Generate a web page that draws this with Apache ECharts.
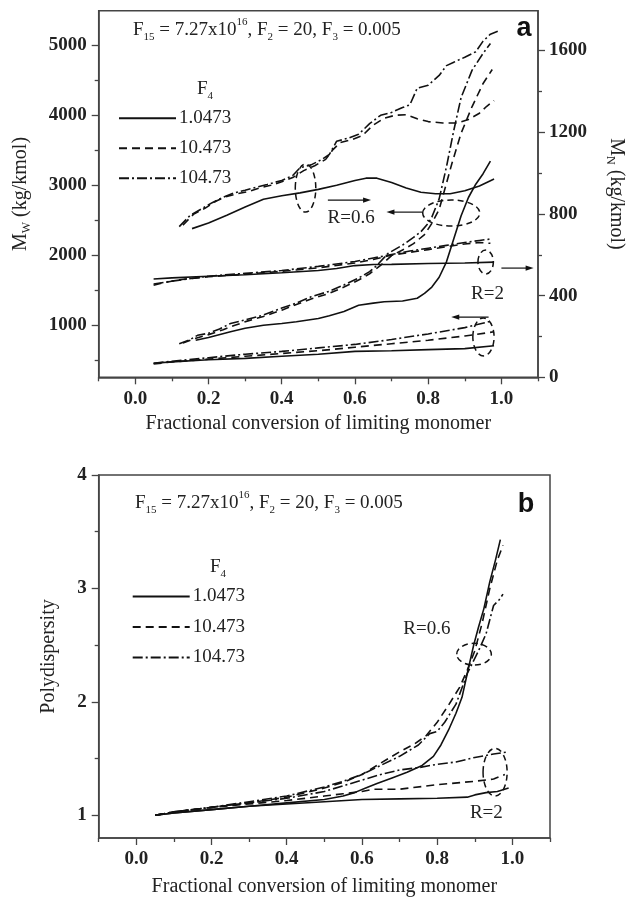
<!DOCTYPE html>
<html><head><meta charset="utf-8">
<script src="https://cdn.jsdelivr.net/npm/echarts@6/dist/echarts.min.js"></script>
<style>html,body{margin:0;padding:0;background:#fff}#c{width:634px;height:898px}</style>
</head><body><div id="c"></div>
<script>
// ---------- legend / tick data ----------
const legendNames = ['1.0473', '10.473', '104.73'];
const xMajor = [0, 0.2, 0.4, 0.6, 0.8, 1.0];
const xMinor = [-0.1, 0.1, 0.3, 0.5, 0.7, 0.9, 1.1];
const mwMajor = [1000, 2000, 3000, 4000, 5000];
const mwMinor = [500, 1500, 2500, 3500, 4500];
const mnMajor = [0, 400, 800, 1200, 1600];
const mnMinor = [200, 600, 1000, 1400];
const pdMajor = [1, 2, 3, 4];
const pdMinor = [1.5, 2.5, 3.5];

// ---------- panel a : R = 0.6, Mn (right axis) ----------
const mnR06SolidX = [0.155,0.2,0.25,0.3,0.35,0.4,0.45,0.5,0.55,0.6,0.63,0.66,0.7,0.74,0.78,0.82,0.86,0.9,0.94,0.98];
const mnR06SolidY = [728,755,793,834,872,889,903,920,940,964,975,975,954,927,906,899,899,913,937,971];
const mnR06DashX = [0.13,0.16,0.19,0.22,0.25,0.28,0.31,0.34,0.37,0.40,0.43,0.46,0.49,0.52,0.54,0.56,0.59,0.62,0.65,0.68,0.71,0.74,0.77,0.80,0.84,0.88,0.91,0.94,0.96,0.98];
const mnR06DashY = [745,800,827,862,886,899,910,927,940,957,978,1012,1036,1067,1115,1149,1163,1183,1235,1269,1283,1286,1266,1252,1245,1245,1262,1293,1327,1355];
const mnR06DotX = [0.12,0.15,0.18,0.21,0.24,0.27,0.30,0.33,0.36,0.40,0.43,0.45,0.48,0.51,0.53,0.55,0.58,0.61,0.64,0.67,0.70,0.73,0.75,0.77,0.80,0.83,0.85,0.87,0.90,0.93,0.95,0.97,0.99];
const mnR06DotY = [738,793,824,855,882,903,916,930,944,964,988,1026,1040,1067,1091,1156,1170,1190,1242,1283,1297,1321,1334,1416,1430,1478,1526,1543,1567,1594,1646,1680,1694];

// ---------- panel a : R = 0.6, Mw (left axis) ----------
const mwR06SolidX = [0.165,0.2,0.26,0.3,0.35,0.4,0.44,0.5,0.53,0.57,0.61,0.65,0.68,0.73,0.77,0.79,0.81,0.83,0.85,0.87,0.89,0.91,0.93,0.95,0.97];
const mwR06SolidY = [780,820,900,950,995,1020,1045,1090,1130,1190,1280,1310,1330,1340,1380,1450,1540,1680,1900,2230,2560,2820,3010,3160,3340];
const mwR06DashX = [0.13,0.16,0.2,0.24,0.27,0.31,0.35,0.4,0.44,0.48,0.53,0.57,0.61,0.64,0.67,0.7,0.73,0.76,0.79,0.81,0.83,0.845,0.865,0.89,0.92,0.95,0.975];
const mwR06DashY = [740,800,860,930,990,1060,1120,1210,1290,1370,1450,1540,1640,1730,1850,1990,2070,2160,2290,2450,2650,2930,3310,3740,4120,4450,4650];
const mwR06DotX = [0.12,0.15,0.17,0.2,0.23,0.26,0.3,0.35,0.4,0.44,0.48,0.53,0.57,0.61,0.64,0.66,0.69,0.73,0.76,0.78,0.8,0.81,0.83,0.85,0.87,0.89,0.92,0.95,0.97];
const mwR06DotY = [730,790,850,880,940,1020,1070,1140,1240,1310,1400,1480,1570,1670,1760,1850,2020,2140,2250,2330,2450,2540,2800,3260,3780,4250,4640,4880,5020];

// ---------- panel a : R = 2, Mn (right axis) ----------
const mnR2SolidX = [0.05,0.1,0.2,0.3,0.4,0.5,0.55,0.6,0.65,0.7,0.8,0.9,0.98];
const mnR2SolidY = [481,487,495,502,512,523,533,547,552,553,557,560,564];
const mnR2DashX = [0.05,0.08,0.12,0.2,0.3,0.4,0.5,0.6,0.65,0.7,0.75,0.8,0.85,0.9,0.94,0.97];
const mnR2DashY = [451,464,478,492,505,519,536,560,577,598,612,625,639,653,660,656];
const mnR2DotX = [0.05,0.1,0.2,0.3,0.4,0.5,0.6,0.65,0.7,0.75,0.8,0.85,0.9,0.94,0.97];
const mnR2DotY = [457,471,495,509,523,543,567,584,601,618,632,646,660,670,677];

// ---------- panel a : R = 2, Mw (left axis) ----------
const mwR2SolidX = [0.05,0.1,0.2,0.3,0.4,0.5,0.6,0.7,0.8,0.9,0.98];
const mwR2SolidY = [450,470,500,520,550,580,620,630,645,660,700];
const mwR2DashX = [0.05,0.1,0.2,0.3,0.4,0.5,0.6,0.7,0.8,0.9,0.98];
const mwR2DashY = [440,470,510,550,590,630,680,730,780,840,900];
const mwR2DotX = [0.05,0.1,0.2,0.3,0.4,0.5,0.6,0.7,0.8,0.9,0.97];
const mwR2DotY = [450,480,530,580,620,670,720,790,870,960,1050];

// ---------- panel b : polydispersity ----------
const pdR2SolidX = [0.05,0.1,0.2,0.3,0.4,0.5,0.6,0.7,0.8,0.88,0.9,0.93,0.96,0.99];
const pdR2SolidY = [1.0,1.02,1.05,1.08,1.10,1.12,1.14,1.145,1.15,1.16,1.18,1.20,1.21,1.24];
const pdR2DashX = [0.05,0.1,0.2,0.3,0.4,0.5,0.55,0.6,0.63,0.7,0.8,0.9,0.95,0.98];
const pdR2DashY = [1.0,1.03,1.07,1.10,1.13,1.17,1.19,1.21,1.23,1.23,1.27,1.30,1.32,1.36];
const pdR2DotX = [0.05,0.1,0.2,0.3,0.4,0.5,0.55,0.6,0.65,0.7,0.75,0.8,0.85,0.9,0.95,0.99];
const pdR2DotY = [1.0,1.03,1.07,1.11,1.15,1.21,1.26,1.31,1.36,1.40,1.42,1.45,1.47,1.51,1.54,1.56];
const pdR06SolidX = [0.05,0.1,0.2,0.3,0.4,0.5,0.55,0.58,0.61,0.64,0.68,0.72,0.76,0.79,0.81,0.83,0.85,0.866,0.88,0.897,0.91,0.924,0.94,0.955,0.968];
const pdR06SolidY = [1.0,1.02,1.05,1.08,1.11,1.14,1.17,1.20,1.24,1.28,1.33,1.38,1.44,1.52,1.62,1.75,1.90,2.04,2.25,2.50,2.66,2.82,3.06,3.25,3.43];
const pdR06DashX = [0.05,0.1,0.2,0.3,0.4,0.5,0.55,0.6,0.65,0.7,0.74,0.77,0.8,0.83,0.86,0.88,0.9,0.92,0.94,0.96,0.975];
const pdR06DashY = [1.0,1.03,1.07,1.11,1.16,1.24,1.29,1.36,1.46,1.56,1.63,1.70,1.82,1.97,2.13,2.28,2.45,2.70,3.0,3.25,3.38];
const pdR06DotX = [0.05,0.1,0.2,0.3,0.4,0.5,0.55,0.6,0.65,0.7,0.75,0.78,0.8,0.82,0.85,0.88,0.91,0.93,0.95,0.965,0.975];
const pdR06DotY = [1.0,1.03,1.07,1.12,1.17,1.25,1.30,1.36,1.44,1.52,1.62,1.72,1.74,1.82,1.98,2.25,2.45,2.60,2.85,2.90,2.95];

// ---------- styling ----------
const SERIF = 'Liberation Serif';
const INK = '#111';
const AX = '#444';
const dashTypes = ['solid', [8, 5], [10, 3, 2, 3]];
const pairs = (xs, ys) => xs.map((x, i) => [x, ys[i]]);

function mkSeries(idx, xs, ys, xi, yi) {
  return {
    type: 'line', name: legendNames[idx], xAxisIndex: xi, yAxisIndex: yi,
    data: pairs(xs, ys), symbol: 'none', smooth: false, clip: true,
    lineStyle: { color: INK, width: 1.6, type: dashTypes[idx] },
    itemStyle: { color: INK }, emphasis: { disabled: true }, animation: false
  };
}

const series = [
  mkSeries(0, mnR06SolidX, mnR06SolidY, 0, 2),
  mkSeries(1, mnR06DashX, mnR06DashY, 0, 2),
  mkSeries(2, mnR06DotX, mnR06DotY, 0, 2),
  mkSeries(0, mwR06SolidX, mwR06SolidY, 0, 0),
  mkSeries(1, mwR06DashX, mwR06DashY, 0, 0),
  mkSeries(2, mwR06DotX, mwR06DotY, 0, 0),
  mkSeries(0, mnR2SolidX, mnR2SolidY, 0, 2),
  mkSeries(1, mnR2DashX, mnR2DashY, 0, 2),
  mkSeries(2, mnR2DotX, mnR2DotY, 0, 2),
  mkSeries(0, mwR2SolidX, mwR2SolidY, 0, 0),
  mkSeries(1, mwR2DashX, mwR2DashY, 0, 0),
  mkSeries(2, mwR2DotX, mwR2DotY, 0, 0),
  mkSeries(0, pdR06SolidX, pdR06SolidY, 2, 4),
  mkSeries(1, pdR06DashX, pdR06DashY, 2, 4),
  mkSeries(2, pdR06DotX, pdR06DotY, 2, 4),
  mkSeries(0, pdR2SolidX, pdR2SolidY, 2, 4),
  mkSeries(1, pdR2DashX, pdR2DashY, 2, 4),
  mkSeries(2, pdR2DotX, pdR2DotY, 2, 4)
];

const tickFont = { fontFamily: SERIF, fontWeight: 'bold', fontSize: 19, color: '#222' };
const nameFont = { fontFamily: SERIF, fontSize: 20, color: '#222' };
const plain = v => String(v);

function xAxes(grid, gap) {
  return [{
    gridIndex: grid, type: 'value', position: 'bottom', min: -0.1, max: 1.1,
    axisLine: { onZero: false, lineStyle: { color: AX, width: 1.5 } },
    axisTick: { customValues: xMajor, length: 7, lineStyle: { color: AX, width: 1.3 } },
    axisLabel: { customValues: xMajor, formatter: v => v.toFixed(1), margin: 12, ...tickFont },
    splitLine: { show: false },
    name: 'Fractional conversion of limiting monomer', nameLocation: 'middle', nameGap: gap,
    nameTextStyle: nameFont
  }, {
    gridIndex: grid, type: 'value', position: 'bottom', min: -0.1, max: 1.1,
    axisLine: { show: false, onZero: false },
    axisTick: { customValues: xMinor, length: 4, lineStyle: { color: AX, width: 1.3 } },
    axisLabel: { show: false }, splitLine: { show: false }
  }];
}

const subRich = {
  m: { fontFamily: SERIF, fontSize: 20, color: '#222', lineHeight: 24, verticalAlign: 'middle' },
  s: { fontFamily: SERIF, fontSize: 12, color: '#222', lineHeight: 12, verticalAlign: 'bottom' }
};

const option = {
  backgroundColor: '#fff',
  animation: false,
  grid: [
    { left: 98.7, right: 84, top: 10.7, height: 366.6, show: true, borderColor: AX, borderWidth: 1.5, backgroundColor: 'transparent' },
    { left: 98.7, right: 84, top: 475, height: 368, show: true, borderColor: AX, borderWidth: 1.5, backgroundColor: 'transparent' }
  ],
  xAxis: [...xAxes(0, 36), ...xAxes(1, 39)],
  yAxis: [
    { gridIndex: 0, type: 'value', position: 'left', min: 250, max: 5490,
      axisLine: { show: true, onZero: false, lineStyle: { color: AX, width: 1.5 } },
      axisTick: { customValues: mwMajor, length: 7, lineStyle: { color: AX, width: 1.3 } },
      axisLabel: { customValues: mwMajor, formatter: plain, margin: 12, ...tickFont }, splitLine: { show: false },
      name: '{m|M}{s|W}{m| (kg/kmol)}', nameLocation: 'middle', nameGap: 66,
      nameTextStyle: { ...nameFont, rich: subRich } },
    { gridIndex: 0, type: 'value', position: 'left', min: 250, max: 5490,
      axisLine: { show: false, onZero: false },
      axisTick: { customValues: mwMinor, length: 4, lineStyle: { color: AX, width: 1.3 } },
      axisLabel: { show: false }, splitLine: { show: false } },
    { gridIndex: 0, type: 'value', position: 'right', min: 0, max: 1795,
      axisLine: { show: true, onZero: false, lineStyle: { color: AX, width: 1.5 } },
      axisTick: { customValues: mnMajor, length: 7, lineStyle: { color: AX, width: 1.3 } },
      axisLabel: { customValues: mnMajor, formatter: plain, margin: 11, ...tickFont }, splitLine: { show: false },
      name: '{m|M}{s|N}{m| (kg/kmol)}', nameLocation: 'middle', nameGap: 66, nameRotate: -90,
      nameTextStyle: { ...nameFont, rich: subRich } },
    { gridIndex: 0, type: 'value', position: 'right', min: 0, max: 1795,
      axisLine: { show: false, onZero: false },
      axisTick: { customValues: mnMinor, length: 4, lineStyle: { color: AX, width: 1.3 } },
      axisLabel: { show: false }, splitLine: { show: false } },
    { gridIndex: 1, type: 'value', position: 'left', min: 0.8, max: 4,
      axisLine: { show: true, onZero: false, lineStyle: { color: AX, width: 1.5 } },
      axisTick: { customValues: pdMajor, length: 7, lineStyle: { color: AX, width: 1.3 } },
      axisLabel: { customValues: pdMajor, formatter: plain, margin: 12, ...tickFont }, splitLine: { show: false },
      name: 'Polydispersity', nameLocation: 'middle', nameGap: 40, nameTextStyle: nameFont },
    { gridIndex: 1, type: 'value', position: 'left', min: 0.8, max: 4,
      axisLine: { show: false, onZero: false },
      axisTick: { customValues: pdMinor, length: 4, lineStyle: { color: AX, width: 1.3 } },
      axisLabel: { show: false }, splitLine: { show: false } }
  ],
  legend: [
    { data: legendNames, orient: 'vertical', left: 118, top: 108.7, padding: 0,
      itemWidth: 57, itemHeight: 14, itemGap: 11, selectedMode: false,
      itemStyle: { opacity: 0 }, textStyle: { fontFamily: SERIF, fontSize: 19, color: '#222', padding: [0,0,0,-2] } },
    { data: legendNames, orient: 'vertical', left: 131.7, top: 587, padding: 0,
      itemWidth: 57, itemHeight: 14, itemGap: 11.5, selectedMode: false,
      itemStyle: { opacity: 0 }, textStyle: { fontFamily: SERIF, fontSize: 19, color: '#222', padding: [0,0,0,-2] } }
  ],
  series: series
};

const chart = echarts.init(document.getElementById('c'), null, { renderer: 'canvas' });
chart.setOption(option);

// ---------- annotations (positions given in data coordinates) ----------
const annTexts = [
  [0, 0.525, 2526, 'R=0.6'],
  [0, 0.917, 1440, 'R=2'],
  [1, 0.71, 2.64, 'R=0.6'],
  [1, 0.887, 1.02, 'R=2']
];
const annArrows = [ // panel, x0, y0, x1, y1 (head at x1,y1)
  [0, 0.526, 2783, 0.644, 2783],
  [0, 0.785, 2611, 0.686, 2611],
  [0, 1.0, 1811, 1.088, 1811],
  [0, 0.965, 1111, 0.863, 1111]
];
const annEllipses = [ // panel, cx, cy, rx(data), ry(data)
  [0, 0.465, 2954, 0.028, 343],
  [0, 0.863, 2598, 0.078, 186],
  [0, 0.957, 1897, 0.021, 171],
  [0, 0.951, 827, 0.029, 271],
  [1, 0.898, 2.42, 0.046, 0.096],
  [1, 0.954, 1.38, 0.032, 0.21]
];
function px(panel, x, y) {
  return chart.convertToPixel(panel === 0 ? { xAxisIndex: 0, yAxisIndex: 0 } : { xAxisIndex: 2, yAxisIndex: 4 }, [x, y]);
}
const g = [];
annTexts.forEach(([p, x, y, t]) => {
  const q = px(p, x, y);
  g.push({ type: 'text', x: q[0], y: q[1], silent: true,
    style: { text: t, fill: '#222', font: '19px "Liberation Serif"', verticalAlign: 'middle', align: 'left' } });
});
annArrows.forEach(([p, x0, y0, x1, y1]) => {
  const a = px(p, x0, y0), b = px(p, x1, y1);
  const dir = Math.sign(b[0] - a[0]);
  g.push({ type: 'line', silent: true, shape: { x1: a[0], y1: a[1], x2: b[0] - dir * 5, y2: b[1] },
    style: { stroke: INK, lineWidth: 1.2 } });
  g.push({ type: 'polygon', silent: true,
    shape: { points: [[b[0], b[1]], [b[0] - dir * 8, b[1] - 2.6], [b[0] - dir * 8, b[1] + 2.6]] },
    style: { fill: INK } });
});
annEllipses.forEach(([p, cx, cy, rx, ry]) => {
  const c = px(p, cx, cy), e = px(p, cx + rx, cy + ry);
  g.push({ type: 'ellipse', silent: true,
    shape: { cx: c[0], cy: c[1], rx: Math.abs(e[0] - c[0]), ry: Math.abs(e[1] - c[1]) },
    style: { stroke: INK, fill: null, lineWidth: 1.5, lineDash: [6, 4] } });
});

const richF = {
  n: { fontFamily: SERIF, fontSize: 19, fill: '#222', lineHeight: 26, verticalAlign: 'middle' },
  sub: { fontFamily: SERIF, fontSize: 11, fill: '#222', lineHeight: 11, verticalAlign: 'bottom' },
  sup: { fontFamily: SERIF, fontSize: 11, fill: '#222', lineHeight: 11, verticalAlign: 'top' }
};
const formula = '{n|F}{sub|15}{n| = 7.27x10}{sup|16}{n|, F}{sub|2}{n| = 20, F}{sub|3}{n| = 0.005}';
[[133, 30], [135, 503]].forEach(([x, y]) => g.push({ type: 'text', x, y, silent: true,
  style: { text: formula, rich: richF, verticalAlign: 'middle', align: 'left' } }));
[[205, 89], [218, 567]].forEach(([x, y]) => g.push({ type: 'text', x, y, silent: true,
  style: { text: '{n|F}{sub|4}', rich: richF, verticalAlign: 'middle', align: 'center' } }));
[['a', 524, 29], ['b', 526, 505]].forEach(([t, x, y]) => g.push({ type: 'text', x, y, silent: true,
  style: { text: t, fill: '#111', font: 'bold 27px "Liberation Sans"', align: 'center', verticalAlign: 'middle' } }));

chart.setOption({ graphic: g });
</script></body></html>
